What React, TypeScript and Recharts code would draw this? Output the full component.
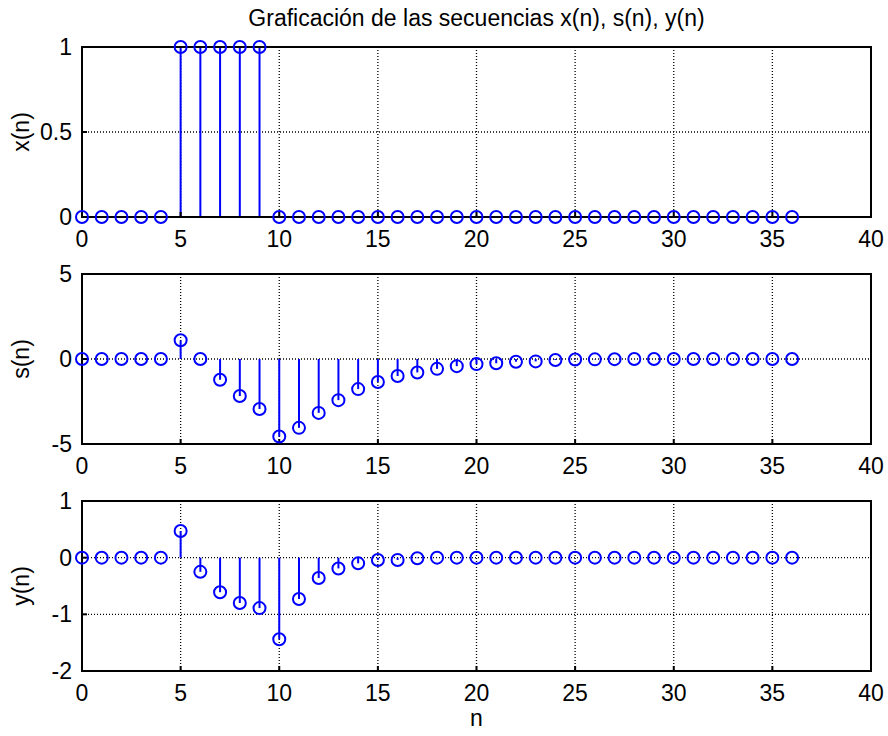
import React from "react";
import {
  CartesianGrid,
  ComposedChart,
  ReferenceArea,
  ReferenceLine,
  Scatter,
  XAxis,
  YAxis,
} from "recharts";

const BLUE = "#0000FF";
const INK = "#000000";
const FONT = "'Liberation Sans', Arial, Helvetica, sans-serif";
const FS = 23;

// sample index n
const N = [
  0, 1, 2, 3, 4, 5, 6, 7, 8, 9, 10, 11, 12, 13, 14, 15, 16, 17, 18, 19, 20, 21,
  22, 23, 24, 25, 26, 27, 28, 29, 30, 31, 32, 33, 34, 35, 36,
];

const X_VALUES = [
  0, 0, 0, 0, 0, 1, 1, 1, 1, 1, 0, 0, 0, 0, 0, 0, 0, 0, 0, 0, 0, 0, 0, 0, 0, 0,
  0, 0, 0, 0, 0, 0, 0, 0, 0, 0, 0,
];

const S_VALUES = [
  0, 0, 0, 0, 0, 1.1, 0, -1.22, -2.18, -2.94, -4.56, -4.05, -3.17, -2.42, -1.77,
  -1.35, -1.0, -0.79, -0.58, -0.42, -0.3, -0.25, -0.16, -0.14, -0.06, -0.03,
  -0.02, -0.01, 0, 0, 0, 0, 0, 0, 0, 0, 0,
];

const Y_VALUES = [
  0, 0, 0, 0, 0, 0.47, -0.25, -0.61, -0.8, -0.89, -1.44, -0.73, -0.36, -0.19,
  -0.1, -0.04, -0.04, -0.01, 0, 0, 0, 0, 0, 0, 0, 0, 0, 0, 0, 0, 0, 0, 0, 0, 0,
  0, 0,
];

const N_TICKS = [0, 5, 10, 15, 20, 25, 30, 35, 40];
const X_TICKS = [0, 0.5, 1];
const S_TICKS = [-5, 0, 5];
const Y_TICKS = [-2, -1, 0, 1];

const TITLE = "Graficación de las secuencias x(n), s(n), y(n)";

const PLOT_H = 170;
const PAD_TOP = 20;
const AXIS_H = 40;

function Stem({
  values,
  ticks,
  plotTop,
  label,
}: {
  values: number[];
  ticks: number[];
  plotTop: number;
  label: string;
}) {
  const data = N.map((n, i) => ({ n, v: values[i] }));
  const domain: [number, number] = [ticks[0], ticks[ticks.length - 1]];
  return (
    <>
      <div style={{ position: "absolute", left: 0, top: plotTop - PAD_TOP }}>
        <ComposedChart
          width={888}
          height={PAD_TOP + PLOT_H + AXIS_H}
          data={data}
          margin={{ top: PAD_TOP - 1, right: 16, bottom: 0, left: 42 }}
        >
          <CartesianGrid
            stroke={INK}
            strokeWidth={1.3}
            strokeDasharray="1 2"
            horizontalValues={ticks}
            verticalValues={N_TICKS}
          />
          <ReferenceArea
            x1={0}
            x2={40}
            y1={domain[0]}
            y2={domain[1]}
            fill="none"
            fillOpacity={0}
            stroke={INK}
            strokeWidth={2}
          />
          <XAxis
            dataKey="n"
            type="number"
            domain={[0, 40]}
            ticks={N_TICKS}
            interval={0}
            height={AXIS_H}
            tickSize={-5}
            tickMargin={19}
            stroke={INK}
            strokeWidth={2}
            tick={{ fill: INK, fontSize: FS }}
          />
          <XAxis
            xAxisId="top"
            orientation="top"
            dataKey="n"
            type="number"
            domain={[0, 40]}
            ticks={N_TICKS}
            interval={0}
            height={1}
            tickSize={-5}
            tick={false}
            stroke={INK}
            strokeWidth={2}
          />
          <YAxis
            type="number"
            domain={domain}
            ticks={ticks}
            interval={0}
            width={40}
            tickSize={-5}
            tickMargin={15}
            stroke={INK}
            strokeWidth={2}
            tick={{ fill: INK, fontSize: FS }}
          />
          <YAxis
            yAxisId="right"
            orientation="right"
            type="number"
            domain={domain}
            ticks={ticks}
            interval={0}
            width={1}
            tickSize={-5}
            tick={false}
            stroke={INK}
            strokeWidth={2}
          />
          {/* invisible series so the top/right box axes are drawn */}
          <Scatter
            xAxisId="top"
            yAxisId="right"
            dataKey="v"
            isAnimationActive={false}
            shape={() => <g />}
          />
          {data
            .filter((d) => d.v !== 0)
            .map((d) => (
              <ReferenceLine
                key={d.n}
                segment={[
                  { x: d.n, y: 0 },
                  { x: d.n, y: d.v },
                ]}
                stroke={BLUE}
                strokeWidth={2}
              />
            ))}
          <Scatter
            dataKey="v"
            isAnimationActive={false}
            shape={(p: any) => (
              <circle
                cx={p.cx}
                cy={p.cy}
                r={6}
                fill="none"
                stroke={BLUE}
                strokeWidth={2}
              />
            )}
          />
        </ComposedChart>
      </div>
      <div
        style={{
          position: "absolute",
          left: 21,
          top: plotTop + PLOT_H / 2,
          transform: "translate(-50%, -50%) rotate(-90deg)",
          fontSize: FS,
          whiteSpace: "nowrap",
        }}
      >
        {label}
      </div>
    </>
  );
}

export default function App() {
  return (
    <div
      style={{
        position: "absolute",
        left: 0,
        top: 0,
        width: 888,
        height: 736,
        background: "#fff",
        fontFamily: FONT,
        color: INK,
      }}
    >
      <div
        style={{
          position: "absolute",
          left: 82,
          width: 789,
          top: 4,
          textAlign: "center",
          fontSize: FS,
          lineHeight: "28px",
        }}
      >
        {TITLE}
      </div>
      <Stem values={X_VALUES} ticks={X_TICKS} plotTop={47} label="x(n)" />
      <Stem values={S_VALUES} ticks={S_TICKS} plotTop={274} label="s(n)" />
      <Stem values={Y_VALUES} ticks={Y_TICKS} plotTop={501} label="y(n)" />
      <div
        style={{
          position: "absolute",
          left: 82,
          width: 789,
          top: 704,
          textAlign: "center",
          fontSize: FS,
          lineHeight: "28px",
        }}
      >
        n
      </div>
    </div>
  );
}
